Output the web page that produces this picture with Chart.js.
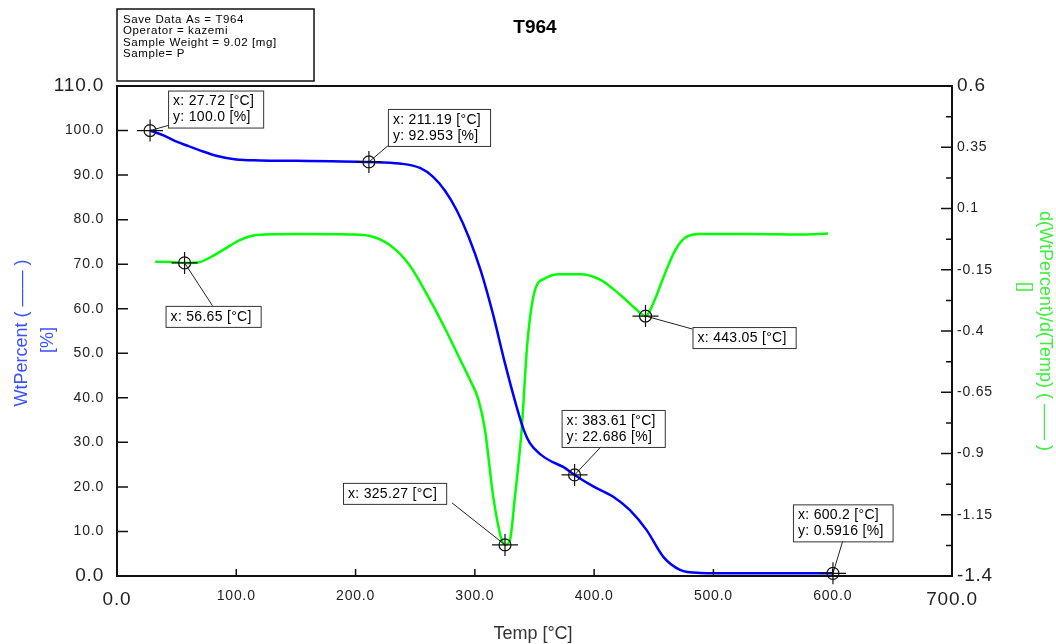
<!DOCTYPE html>
<html>
<head>
<meta charset="utf-8">
<title>T964</title>
<script src="https://cdn.jsdelivr.net/npm/chart.js@4.4.1/dist/chart.umd.min.js"></script>
<style>
  html, body { margin: 0; padding: 0; background: #fff; }
</style>
</head>
<body>
<canvas id="myChart" width="1056" height="644"></canvas>
<script>
// --- дані ---
var wtTemp    = [27.72, 40, 50, 60, 70, 84, 100, 120, 150, 180, 211.19, 237, 254, 265, 275, 285, 295, 305, 315, 325, 335, 341, 346, 355, 365, 374, 383.61, 400, 416, 430, 444, 458, 472, 489, 520, 560, 600.2];
var wtPercent = [100.0, 98.8, 97.5, 96.5, 95.5, 94.3, 93.5, 93.3, 93.2, 93.1, 92.953, 92.6, 91.6, 89.6, 86.5, 82, 76, 68.5, 59, 48, 38, 32.8, 29.9, 27.3, 25.6, 24.5, 22.686, 20, 17.8, 14.8, 10.3, 4.3, 1.4, 0.7, 0.6, 0.6, 0.5916];

var dTemp = [32, 45, 56.65, 68, 78, 89, 103, 117, 153, 195, 212, 229, 245, 262, 275, 287, 296, 303, 308.5, 315.4, 322.5, 325.27, 329.4, 333.6, 339.2, 344, 350, 359, 371, 388, 405, 422, 434, 443.05, 451, 459, 468, 476, 489, 530, 572, 596];
var dWt   = [-0.117, -0.118, -0.122, -0.12, -0.1, -0.069, -0.029, -0.008, -0.004, -0.006, -0.012, -0.05, -0.13, -0.27, -0.39, -0.51, -0.6, -0.68, -0.804, -1.076, -1.253, -1.273, -1.253, -1.076, -0.804, -0.45, -0.24, -0.185, -0.168, -0.168, -0.19, -0.253, -0.306, -0.339, -0.27, -0.17, -0.07, -0.02, -0.004, -0.004, -0.006, -0.002];

var xTicks     = [0, 100, 200, 300, 400, 500, 600, 700];
var leftTicks  = [0, 10, 20, 30, 40, 50, 60, 70, 80, 90, 100, 110];
var rightTicks = [-1.4, -1.15, -0.9, -0.65, -0.4, -0.15, 0.1, 0.35, 0.6];

// мітки (курсори)
var markTemp = [27.72, 211.19, 56.65, 443.05, 325.27, 383.61, 600.2];
var markVal  = [100.0, 92.953, -0.122, -0.339, -1.273, 22.686, 0.5916];
var markAxis = ['y', 'y', 'y2', 'y2', 'y2', 'y', 'y'];
var markText = [
    ['x: 27.72 [°C]', 'y: 100.0 [%]'],
    ['x: 211.19 [°C]', 'y: 92.953 [%]'],
    ['x: 56.65 [°C]'],
    ['x: 443.05 [°C]'],
    ['x: 325.27 [°C]'],
    ['x: 383.61 [°C]', 'y: 22.686 [%]'],
    ['x: 600.2 [°C]', 'y: 0.5916 [%]']
];

var infoLines = ['Save Data As = T964', 'Operator = kazemi', 'Sample Weight = 9.02 [mg]', 'Sample= P'];

// зсув рамок відносно мітки: [dx, dy, кінець лінії x, кінець лінії y]
var boxPos = [
    [18, -40, 18, -5],
    [19, -53, 20, -17],
    [-19, 43, 28, 43],
    [47, 11, 47, 13],
    [-162, -62, -53, -42],
    [-13, -65, 30, -32],
    [-40, -69, 10, -33]
];

var FONT = '"Liberation Sans", Arial, sans-serif';

function tickFont(ctx, n) {
    var last = ctx.index === 0 || ctx.index === n - 1;
    return { family: FONT, size: last ? 19 : 14 };
}

// --- плагін: рамки, заголовки, внутрішні риски ---
var decor = {
    id: 'decor',
    beforeDraw: function (chart) {
        chart.ctx.letterSpacing = '0.8px'; // підписи осей трохи ширші
    },
    afterDraw: function (chart) {
        var c = chart.ctx;
        var a = chart.chartArea;
        var sx = chart.scales.x, sy = chart.scales.y, sy2 = chart.scales.y2;

        c.save();
        c.letterSpacing = '0px';
        c.strokeStyle = '#111';
        c.lineWidth = 2;
        // верхня лінія
        c.beginPath();
        c.moveTo(a.left, a.top);
        c.lineTo(a.right, a.top);
        c.stroke();

        // риски всередину
        c.lineWidth = 1.5;
        c.beginPath();
        leftTicks.forEach(function (v) {
            var y = sy.getPixelForValue(v);
            c.moveTo(a.left, y); c.lineTo(a.left + 11, y);
        });
        xTicks.forEach(function (v) {
            var x = sx.getPixelForValue(v);
            c.moveTo(x, a.bottom); c.lineTo(x, a.bottom - 7);
        });
        rightTicks.forEach(function (v, i) {
            var y = sy2.getPixelForValue(v);
            c.moveTo(a.right, y); c.lineTo(a.right - 11, y);
            if (i < rightTicks.length - 1) {
                var ym = sy2.getPixelForValue((v + rightTicks[i + 1]) / 2);
                c.moveTo(a.right, ym); c.lineTo(a.right - 6, ym);
            }
        });
        c.stroke();

        // інфо-рамка
        c.lineWidth = 1.5;
        c.strokeStyle = '#111';
        c.strokeRect(117, 9, 197, 72);
        c.fillStyle = '#000';
        c.font = '11.5px ' + FONT;
        c.letterSpacing = '0.6px';
        c.textBaseline = 'middle';
        c.textAlign = 'left';
        infoLines.forEach(function (t, i) {
            c.fillText(t, 123, 20 + i * 11.3);
        });
        c.letterSpacing = '0px';

        // заголовок
        c.font = 'bold 19px ' + FONT;
        c.textAlign = 'center';
        c.fillText('T964', 535, 28);

        // підпис осі X
        c.fillStyle = '#333';
        c.font = '18px ' + FONT;
        c.fillText('Temp [°C]', 533, 634);

        // ліва вісь
        c.fillStyle = '#3d50ff';
        c.save();
        c.translate(22, 333);
        c.rotate(-Math.PI / 2);
        c.fillText('WtPercent ( \u2014\u2014 )', 0, 0);
        c.restore();
        c.save();
        c.translate(48, 340);
        c.rotate(-Math.PI / 2);
        c.fillText('[%]', 0, 0);
        c.restore();

        // права вісь
        c.fillStyle = '#40ee40';
        c.save();
        c.translate(1045, 331);
        c.rotate(Math.PI / 2);
        c.fillText('d(WtPercent)/d(Temp) ( \u2014\u2014 )', 0, 0);
        c.restore();
        c.save();
        c.translate(1025, 287);
        c.rotate(Math.PI / 2);
        c.fillText('[]', 0, 0);
        c.restore();

        // курсори
        c.font = '14px ' + FONT;
        c.letterSpacing = '0.3px';
        c.textAlign = 'left';
        markTemp.forEach(function (t, i) {
            var px = sx.getPixelForValue(t);
            var py = chart.scales[markAxis[i]].getPixelForValue(markVal[i]);
            var p = boxPos[i];
            var lines = markText[i];
            var w = 0;
            lines.forEach(function (s) { w = Math.max(w, c.measureText(s).width); });
            w += 14;
            var h = lines.length * 16 + 5;
            var bx = px + p[0], by = py + p[1];

            c.strokeStyle = '#222';
            c.lineWidth = 1;
            c.beginPath();
            c.moveTo(px, py);
            c.lineTo(px + p[2], py + p[3]);
            c.stroke();

            c.fillStyle = '#fff';
            c.fillRect(bx, by, w, h);
            c.strokeStyle = '#333';
            c.strokeRect(bx + 0.5, by + 0.5, w, h);
            c.fillStyle = '#000';
            lines.forEach(function (s, k) {
                c.fillText(s, bx + 5, by + 11 + k * 16);
            });

            c.strokeStyle = '#111';
            c.lineWidth = 1.2;
            c.beginPath();
            c.arc(px, py, 6, 0, Math.PI * 2);
            c.moveTo(px - 13, py); c.lineTo(px + 13, py);
            c.moveTo(px, py - 11); c.lineTo(px, py + 11);
            c.stroke();
        });
        c.restore();
    }
};

function makePoints(xs, ys) {
    return xs.map(function (x, i) { return { x: x, y: ys[i] }; });
}

var gridOff = { display: false, drawTicks: false, tickLength: 0 };

window.addEventListener('load', function () {
    var ctx = document.getElementById('myChart').getContext('2d');
    new Chart(ctx, {
        type: 'line',
        data: {
            datasets: [{
                label: 'WtPercent',
                data: makePoints(wtTemp, wtPercent),
                yAxisID: 'y',
                borderColor: '#0000ff',
                borderWidth: 2.5,
                pointRadius: 0,
                cubicInterpolationMode: 'monotone',
                fill: false
            }, {
                label: 'd(WtPercent)/d(Temp)',
                data: makePoints(dTemp, dWt),
                yAxisID: 'y2',
                borderColor: '#00ff00',
                borderWidth: 2.5,
                pointRadius: 0,
                cubicInterpolationMode: 'monotone',
                fill: false
            }]
        },
        options: {
            responsive: false,
            animation: false,
            layout: { padding: { top: 86, left: 0, right: 0, bottom: 0 } },
            plugins: { legend: { display: false }, tooltip: { enabled: false }, title: { display: false } },
            scales: {
                x: {
                    type: 'linear', position: 'bottom', min: 0, max: 700,
                    afterBuildTicks: function (s) { s.ticks = xTicks.map(function (v) { return { value: v }; }); },
                    afterFit: function (s) { s.height = 68; },
                    grid: gridOff,
                    border: { display: true, color: '#111', width: 2 },
                    ticks: {
                        autoSkip: false, maxRotation: 0, padding: 12, color: '#222',
                        font: function (c) { return tickFont(c, xTicks.length); },
                        callback: function (v) { return v.toFixed(1); }
                    }
                },
                y: {
                    type: 'linear', position: 'left', min: 0, max: 110,
                    afterBuildTicks: function (s) { s.ticks = leftTicks.map(function (v) { return { value: v }; }); },
                    afterFit: function (s) { s.width = 117; },
                    grid: gridOff,
                    border: { display: true, color: '#111', width: 2 },
                    ticks: {
                        autoSkip: false, padding: 13, color: '#222',
                        font: function (c) { return tickFont(c, leftTicks.length); },
                        callback: function (v) { return v.toFixed(1); }
                    }
                },
                y2: {
                    type: 'linear', position: 'right', min: -1.4, max: 0.6,
                    afterBuildTicks: function (s) { s.ticks = rightTicks.map(function (v) { return { value: v }; }); },
                    afterFit: function (s) { s.width = 104; },
                    grid: gridOff,
                    border: { display: true, color: '#111', width: 2 },
                    ticks: {
                        autoSkip: false, padding: 5, color: '#222',
                        font: function (c) { return tickFont(c, rightTicks.length); },
                        callback: function (v) { return String(parseFloat(v.toFixed(2))); }
                    }
                }
            }
        },
        plugins: [decor]
    });
});
</script>
</body>
</html>
